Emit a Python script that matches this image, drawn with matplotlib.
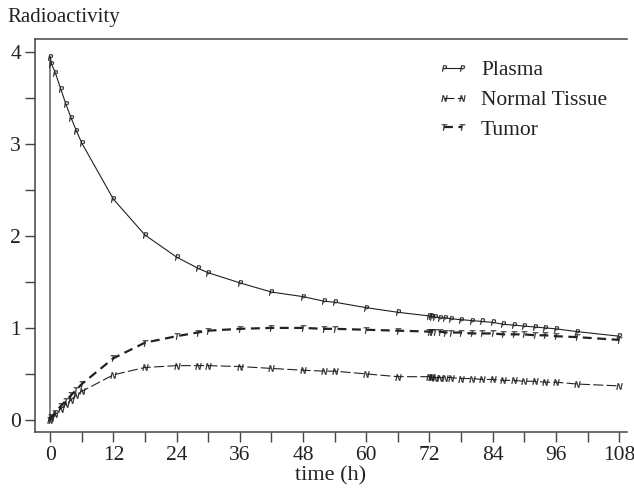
import matplotlib
matplotlib.use("Agg")
from matplotlib import pyplot as plt
from matplotlib.ticker import MultipleLocator

# sampling times (h)
times = [0, 0.25, 1, 2, 3, 4, 5, 6, 12, 18, 24, 28, 30, 36, 42, 48, 52, 54,
         60, 66, 72, 72.25, 72.5, 73, 74, 75, 76, 78, 80, 82, 84, 86, 88, 90,
         92, 94, 96, 100, 108]

plasma = [3.95, 3.87, 3.77, 3.60, 3.43, 3.28, 3.14, 3.01, 2.40, 2.01, 1.77,
          1.65, 1.60, 1.49, 1.39, 1.34, 1.29, 1.28, 1.22, 1.17, 1.13, 1.13,
          1.12, 1.12, 1.11, 1.11, 1.10, 1.09, 1.08, 1.07, 1.06, 1.04, 1.03,
          1.02, 1.01, 1.00, 0.99, 0.96, 0.91]

normal = [0.0, 0.02, 0.06, 0.12, 0.17, 0.22, 0.27, 0.31, 0.49, 0.57, 0.59,
          0.59, 0.59, 0.58, 0.56, 0.54, 0.53, 0.53, 0.50, 0.47, 0.47, 0.47,
          0.47, 0.46, 0.46, 0.46, 0.46, 0.45, 0.45, 0.44, 0.44, 0.43, 0.43,
          0.42, 0.42, 0.41, 0.41, 0.39, 0.37]

tumor = [0.0, 0.03, 0.08, 0.15, 0.21, 0.27, 0.33, 0.39, 0.67, 0.84, 0.91,
         0.95, 0.97, 0.99, 1.00, 1.00, 0.99, 0.99, 0.98, 0.97, 0.96, 0.96,
         0.96, 0.96, 0.96, 0.95, 0.95, 0.95, 0.94, 0.94, 0.94, 0.93, 0.93,
         0.93, 0.92, 0.92, 0.91, 0.90, 0.87]

x_ticks = [0, 12, 24, 36, 48, 60, 72, 84, 96, 108]

plt.rcParams['font.family'] = ['Liberation Serif', 'DejaVu Serif']
plt.rcParams['mathtext.fontset'] = 'dejavusans'

fig = plt.figure(figsize=(6.34, 4.88), dpi=100)
ax = fig.add_axes([0.055, 0.115, 0.934, 0.805])

ink = '#222222'

# vertical rise of the plasma curve at t = 0
ax.vlines(0, 0, plasma[0], color='#777777', lw=1.3, zorder=1)

mk = dict(ms=4.5, mec=ink, mfc=ink, mew=0.2)
ax.plot(times, plasma, color=ink, lw=0.8, ls='-',
        marker='$P$', label='Plasma', **mk)
ax.plot(times, normal, color=ink, lw=0.8, ls=(0, (9, 3)),
        marker='$N$', label='Normal Tissue', **mk)
ax.plot(times, tumor, color=ink, lw=1.6, ls=(0, (4, 2.5)),
        marker='$T$', label='Tumor', **mk)

ax.set_xlim(-2.9, 109.5)
ax.set_ylim(-0.13, 4.14)
ax.set_xticks(x_ticks)
ax.xaxis.set_minor_locator(MultipleLocator(6))
ax.yaxis.set_major_locator(MultipleLocator(1))
ax.yaxis.set_minor_locator(MultipleLocator(0.5))

ax.tick_params(which='both', direction='out', length=7, width=1,
               color='#444444', labelsize=15.5, labelcolor=ink, pad=3)
for side in ['left', 'top', 'bottom']:
    ax.spines[side].set_color('#444444')
    ax.spines[side].set_linewidth(1.1)
ax.spines['right'].set_visible(False)

ax.set_xlabel('time (h)', fontsize=16, color=ink, labelpad=1)
fig.text(0.012, 0.965, 'Radioactivity', fontsize=15, color=ink,
         ha='left', va='center')

ax.legend(loc='upper left', bbox_to_anchor=(0.648, 0.995), frameon=False,
          fontsize=15.5, numpoints=2, handlelength=1.4, handletextpad=0.6,
          labelspacing=0.45, labelcolor=ink)

fig.savefig('out.png', dpi=100)
